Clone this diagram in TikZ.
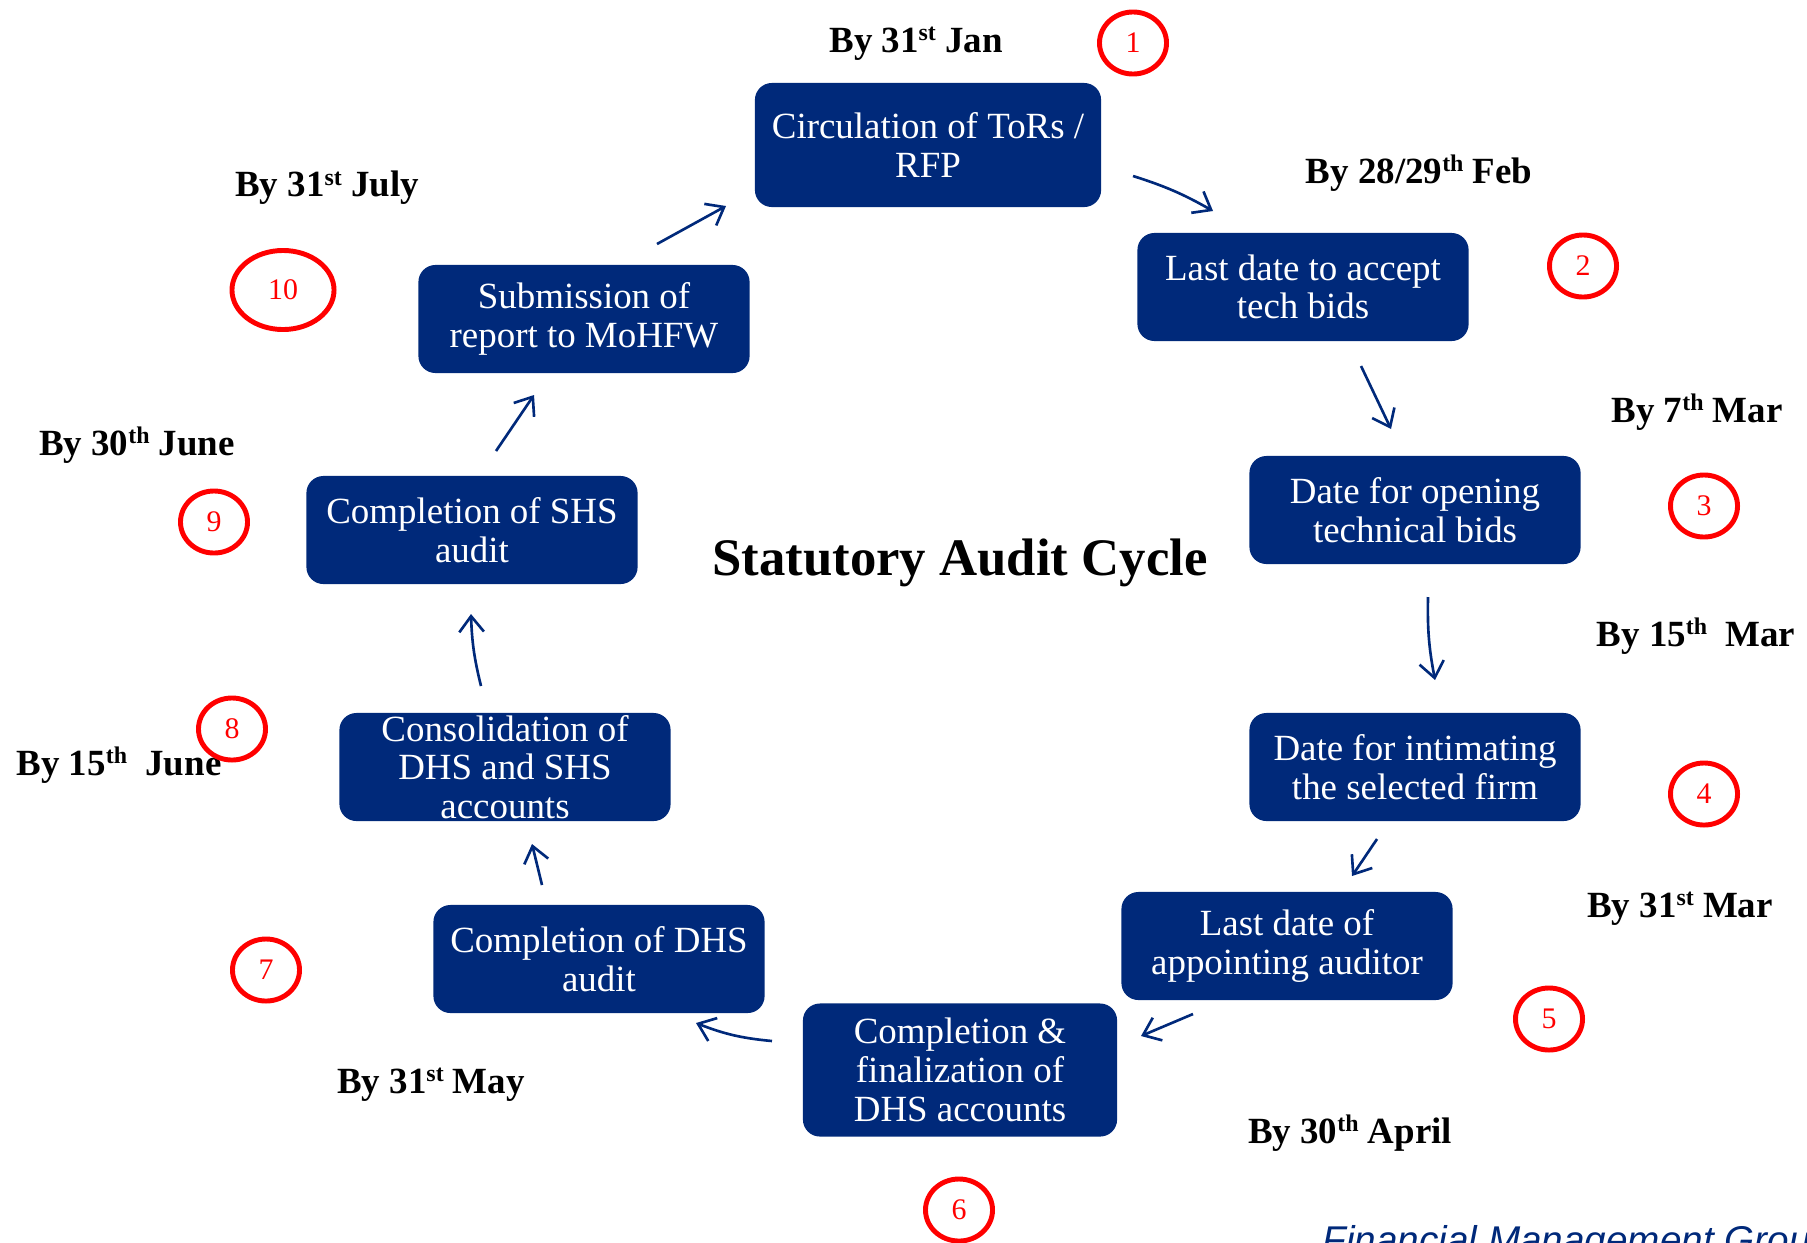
\documentclass[tikz,border=0pt]{standalone}
\usepackage{fontspec}
\setmainfont{Liberation Serif}
\newfontfamily\footfont{Liberation Sans}
\usepackage{tikz}
\usetikzlibrary{arrows.meta,shapes.geometric}
\definecolor{audnavy}{RGB}{0,41,122}
\newcommand\ordsup[1]{\raisebox{0.32em}{\fontsize{6.8}{7}\selectfont #1}}
\newcommand\stepno[3]{\node[numring] (n#1) at (#2,#3) {#1};}
\newcommand\bydate[4]{\node[datelbl] (d#1) at (#2,#3) {By #4};}

\begin{document}
\begin{tikzpicture}[x=0.01cm,y=-0.01cm,
  stage/.style={fill=audnavy,rounded corners=0.17cm,text=white,align=center,
    minimum width=3.31cm,minimum height=1.08cm,inner sep=0pt,
    font=\fontsize{10.5}{11}\selectfont},
  numring/.style={ellipse,draw=red,line width=1.4pt,text=red,
    minimum width=0.67cm,minimum height=0.62cm,inner sep=0pt,
    font=\fontsize{8.5}{9}\selectfont},
  datelbl/.style={font=\bfseries\fontsize{10.5}{12}\selectfont,inner sep=0pt},
  flow/.style={audnavy,line width=0.75pt,-{Straight Barb[length=4.5pt,width=7pt]}}]
\useasboundingbox (0,0) rectangle (1807,1242);
% the ten stages
\node[stage,minimum width=3.46cm,minimum height=1.24cm] (tor) at (928,145) {Circulation of ToRs /\\RFP};
\node[stage] (bids) at (1303,287) {Last date to accept\\tech bids};
\node[stage] (open) at (1415,510) {Date for opening\\technical bids};
\node[stage] (firm) at (1415,767) {Date for intimating\\the selected firm};
\node[stage] (appt) at (1287,946) {Last date of\\appointing auditor};
\node[stage,minimum width=3.14cm,minimum height=1.33cm] (fin) at (960,1070) {Completion \&\\finalization of\\DHS accounts};
\node[stage] (dhs) at (599,959) {Completion of DHS\\audit};
\node[stage] (cons) at (505,767) {Consolidation of\\DHS and SHS\\accounts};
\node[stage] (shs) at (472,530) {Completion of SHS\\audit};
\node[stage] (rep) at (584,319) {Submission of\\report to MoHFW};
\node[font=\bfseries\fontsize{15}{18}\selectfont] (title) at (960,563) {Statutory Audit Cycle};
% deadlines
\bydate{1}{916}{44}{31\ordsup{st} Jan}
\bydate{2}{1419}{173}{28/29\ordsup{th} Feb}
\bydate{3}{1697}{412}{7\ordsup{th} Mar}
\bydate{4}{1696}{636}{15\ordsup{th}\ \ Mar}
\bydate{5}{1680}{909}{31\ordsup{st} Mar}
\bydate{6}{1350}{1133}{30\ordsup{th} April}
\bydate{7}{431}{1085}{31\ordsup{st} May}
\bydate{8}{119}{765}{15\ordsup{th}\ \ June}
\bydate{9}{137}{445}{30\ordsup{th} June}
\bydate{10}{327}{188}{31\ordsup{st} July}
% step numbers
\stepno{1}{1133}{43}
\stepno{2}{1583}{266}
\stepno{3}{1704}{506}
\stepno{4}{1704}{794}
\stepno{5}{1549}{1019}
\stepno{6}{959}{1210}
\stepno{7}{266}{970}
\stepno{8}{232}{729}
\stepno{9}{214}{522}
\node[numring,minimum width=1.02cm,minimum height=0.79cm] (n10) at (283,290) {10};
% arrows between the stages
\coordinate (s1) at (1133,176); \coordinate (e1) at (1213,211);
\coordinate (s2) at (1361,366); \coordinate (e2) at (1391,429);
\coordinate (s3) at (1428,597); \coordinate (e3) at (1435,680);
\coordinate (s4) at (1377,839); \coordinate (e4) at (1352,876);
\coordinate (s5) at (1193,1014); \coordinate (e5) at (1141,1036);
\coordinate (s6) at (772,1041); \coordinate (e6) at (696,1023);
\coordinate (s7) at (542,885); \coordinate (e7) at (532,844);
\coordinate (s8) at (481,686); \coordinate (e8) at (471,614);
\coordinate (s9) at (496,451); \coordinate (e9) at (534,395);
\coordinate (s10) at (657,244); \coordinate (e10) at (726,206);
\draw[flow] (s1) to[bend left=6] (e1);
\draw[flow] (s2) -- (e2);
\draw[flow] (s3) to[bend right=6] (e3);
\draw[flow] (s4) -- (e4);
\draw[flow] (s5) -- (e5);
\draw[flow] (s6) to[bend left=8] (e6);
\draw[flow] (s7) -- (e7);
\draw[flow] (s8) to[bend left=6] (e8);
\draw[flow] (s9) -- (e9);
\draw[flow] (s10) -- (e10);
\node[font=\footfont\itshape\fontsize{11}{13}\selectfont,text=audnavy,anchor=base west,inner sep=0pt] (fmg) at (1322,1253) {Financial Management Group};
\end{tikzpicture}
\end{document}
